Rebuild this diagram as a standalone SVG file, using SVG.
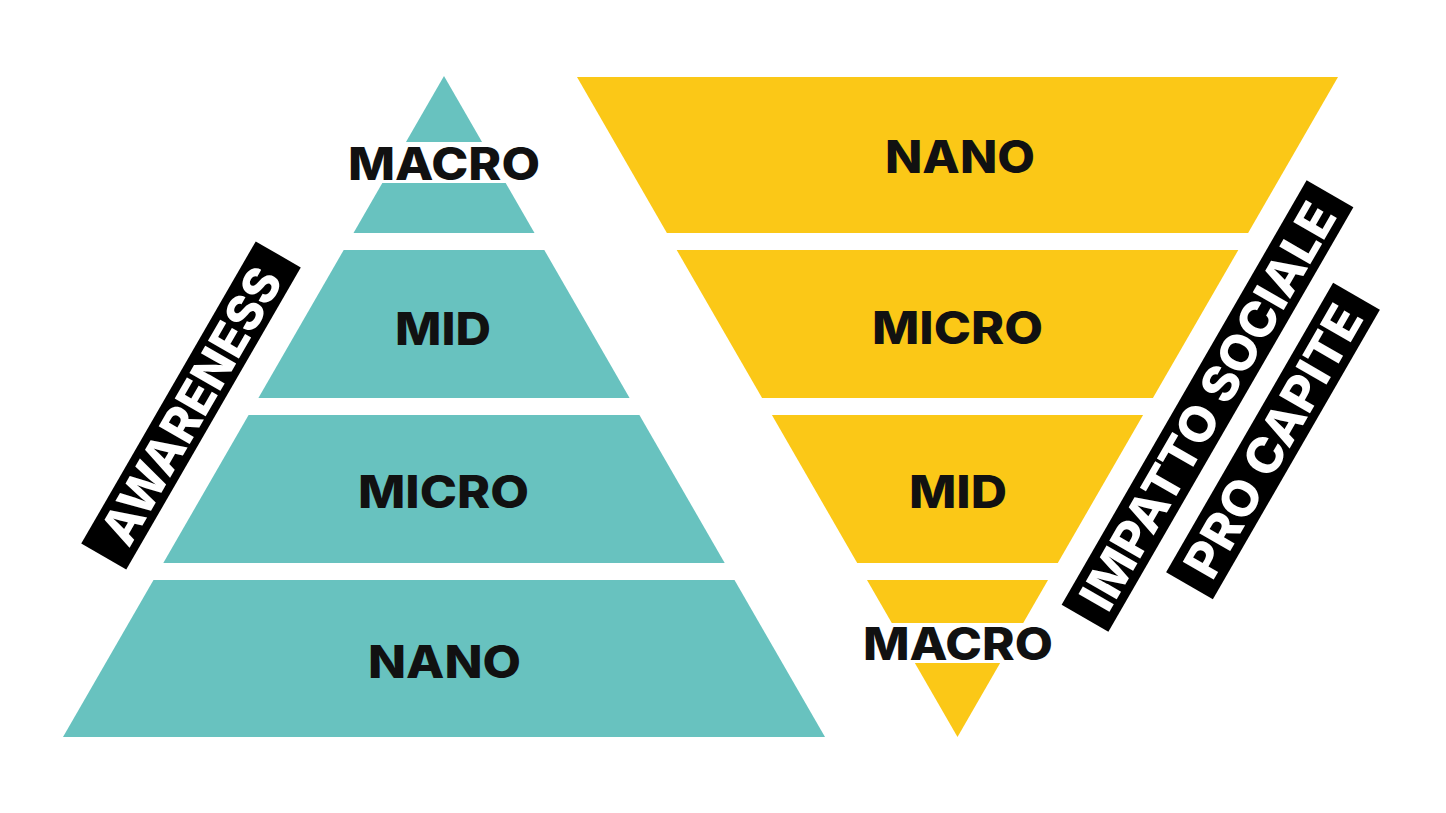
<svg xmlns="http://www.w3.org/2000/svg" width="1446" height="813" viewBox="0 0 1446 813">
<style>
.teal{fill:#68C2BF}
.yel{fill:#FBC817}
.lbl{font-family:Inter,"Liberation Sans",sans-serif;font-weight:800;font-size:45px;fill:#111;text-anchor:middle}
.tag{font-family:Inter,"Liberation Sans",sans-serif;font-weight:800;font-size:49px;fill:#fff;text-anchor:middle}
</style>
<rect width="1446" height="813" fill="#fff"/>
<g id="pyramid">
  <g id="p-macro">
    <polygon class="teal" points="444,76 534.5,233 353.5,233"/>
    <rect x="340" y="142" width="210" height="41" fill="#fff"/>
    <text class="lbl" x="444" y="180" textLength="192" lengthAdjust="spacingAndGlyphs">MACRO</text>
  </g>
  <g id="p-mid">
    <polygon class="teal" points="343.7,250 544.3,250 629.6,398 258.4,398"/>
    <text class="lbl" x="443" y="345" textLength="96" lengthAdjust="spacingAndGlyphs">MID</text>
  </g>
  <g id="p-micro">
    <polygon class="teal" points="248.6,415 639.4,415 724.7,563 163.3,563"/>
    <text class="lbl" x="443.5" y="508" textLength="171" lengthAdjust="spacingAndGlyphs">MICRO</text>
  </g>
  <g id="p-nano">
    <polygon class="teal" points="153.5,580 734.5,580 825,737 63,737"/>
    <text class="lbl" x="444.5" y="678" textLength="153" lengthAdjust="spacingAndGlyphs">NANO</text>
  </g>
</g>
<g id="funnel">
  <g id="f-nano">
    <polygon class="yel" points="577,77 1338,77 1248.1,233 666.9,233"/>
    <text class="lbl" x="960" y="173" textLength="150" lengthAdjust="spacingAndGlyphs">NANO</text>
  </g>
  <g id="f-micro">
    <polygon class="yel" points="676.7,250 1238.3,250 1152.9,398 762.1,398"/>
    <text class="lbl" x="957.5" y="344" textLength="171" lengthAdjust="spacingAndGlyphs">MICRO</text>
  </g>
  <g id="f-mid">
    <polygon class="yel" points="771.9,415 1143.1,415 1057.8,563 857.2,563"/>
    <text class="lbl" x="958" y="508" textLength="98" lengthAdjust="spacingAndGlyphs">MID</text>
  </g>
  <g id="f-macro">
    <polygon class="yel" points="867,580 1048,580 957.5,737"/>
    <rect x="850" y="623" width="215" height="40" fill="#fff"/>
    <text class="lbl" x="958" y="660" textLength="190" lengthAdjust="spacingAndGlyphs">MACRO</text>
  </g>
</g>
<g id="tag-awareness" transform="translate(191,405.5) rotate(-60)">
  <rect x="-174.5" y="-26" width="349" height="52" fill="#000"/>
  <text class="tag" x="0" y="18" textLength="310" lengthAdjust="spacingAndGlyphs">AWARENESS</text>
</g>
<g id="tag-impatto" transform="translate(1207.5,406) rotate(-60)">
  <rect x="-245" y="-27" width="490" height="54" fill="#000"/>
  <text class="tag" x="0" y="18" textLength="460" lengthAdjust="spacingAndGlyphs">IMPATTO SOCIALE</text>
</g>
<g id="tag-procapite" transform="translate(1273,441) rotate(-60)">
  <rect x="-167" y="-27" width="334" height="54" fill="#000"/>
  <text class="tag" x="0" y="18" textLength="305" lengthAdjust="spacingAndGlyphs">PRO CAPITE</text>
</g>
<g id="connectors"/>
</svg>
